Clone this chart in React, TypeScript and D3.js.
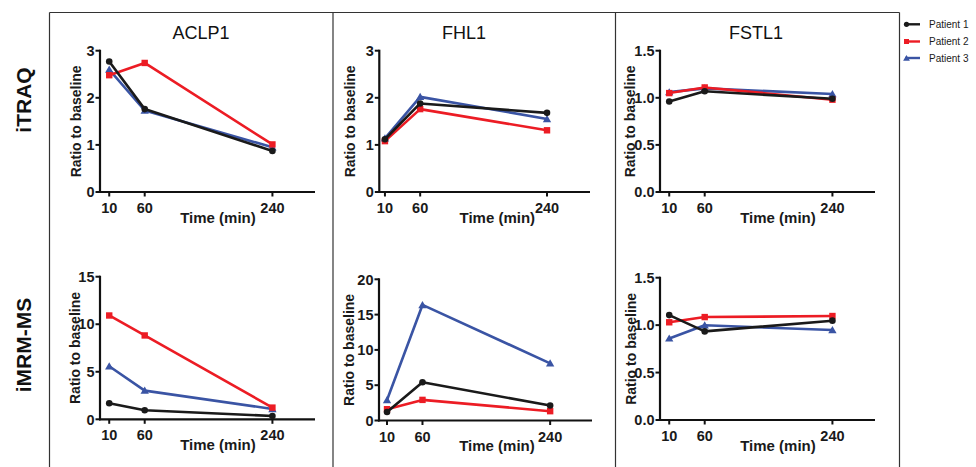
import React from "react";
import * as d3 from "d3";

// ---- data ----
const times = [10, 60, 240];
const patients = ["Patient 1", "Patient 2", "Patient 3"];
const proteins = ["ACLP1", "FHL1", "FSTL1"];
const methods = ["iTRAQ", "iMRM-MS"];

// rows: Patient 1, Patient 2, Patient 3 ; columns: 10, 60, 240 min
const itraqACLP1 = [[2.77, 1.76, 0.87], [2.48, 2.74, 1.01], [2.6, 1.73, 0.95]];
const itraqFHL1 = [[1.12, 1.88, 1.68], [1.08, 1.76, 1.31], [1.14, 2.02, 1.55]];
const itraqFSTL1 = [[0.96, 1.07, 0.99], [1.05, 1.11, 0.98], [1.06, 1.1, 1.04]];
const imrmACLP1 = [[1.69, 0.95, 0.35], [10.92, 8.82, 1.23], [5.58, 3.02, 1.09]];
const imrmFHL1 = [[1.2, 5.42, 2.12], [1.6, 2.92, 1.32], [2.9, 16.37, 8.1]];
const imrmFSTL1 = [[1.106, 0.934, 1.047], [1.03, 1.085, 1.096], [0.86, 0.998, 0.948]];

const yTicksACLP1i = [0, 1, 2, 3];
const yTicksFHL1i = [0, 1, 2, 3];
const yTicksFSTL1 = [0, 0.5, 1.0, 1.5];
const yTicksACLP1m = [0, 5, 10, 15];
const yTicksFHL1m = [0, 5, 10, 15, 20];

// ---- styles / layout ----
const COLORS = ["#1a1a1a", "#ec1c24", "#3a54a4"];
const FONT = "'Liberation Sans', Arial, Helvetica, sans-serif";

type Panel = {
  data: number[][];
  ticks: number[];
  fmt: (v: number) => string;
  title?: string;
  titleX: number;
  axisX: number;
  axisEnd: number;
  xDom: [number, number];
  yTop: number;
  yBot: number;
  yLabOff: number;
};

const intFmt = (v: number) => String(v);
const decFmt = d3.format(".1f");

const panels: Panel[] = [
  { data: itraqACLP1, ticks: yTicksACLP1i, fmt: intFmt, title: proteins[0], titleX: 201, axisX: 100, axisEnd: 315, xDom: [-3, 300], yTop: 50.7, yBot: 192, yLabOff: 19.5 },
  { data: itraqFHL1, ticks: yTicksFHL1i, fmt: intFmt, title: proteins[1], titleX: 464, axisX: 379.3, axisEnd: 590, xDom: [2, 301], yTop: 50.7, yBot: 192, yLabOff: 24 },
  { data: itraqFSTL1, ticks: yTicksFSTL1, fmt: decFmt, title: proteins[2], titleX: 756, axisX: 660, axisEnd: 875, xDom: [-3, 300], yTop: 50.7, yBot: 192, yLabOff: 25 },
  { data: imrmACLP1, ticks: yTicksACLP1m, fmt: intFmt, titleX: 0, axisX: 100, axisEnd: 315, xDom: [-3, 300], yTop: 276.7, yBot: 419.3, yLabOff: 20.5 },
  { data: imrmFHL1, ticks: yTicksFHL1m, fmt: intFmt, titleX: 0, axisX: 379, axisEnd: 592, xDom: [-1.3, 299], yTop: 279.3, yBot: 420.5, yLabOff: 25 },
  { data: imrmFSTL1, ticks: yTicksFSTL1, fmt: decFmt, titleX: 0, axisX: 660, axisEnd: 875, xDom: [-3, 300], yTop: 277.7, yBot: 420, yLabOff: 24 },
];

const triPath = d3.symbol().type(d3.symbolTriangle).size(30)() as string;
const triPathSmall = d3.symbol().type(d3.symbolTriangle).size(20)() as string;

function Marker({ i, x, y, small }: { i: number; x: number; y: number; small?: boolean }) {
  const c = COLORS[i];
  if (i === 0) return <circle cx={x} cy={y} r={small ? 2.6 : 3.3} fill={c} />;
  if (i === 1) {
    const s = small ? 5 : 6.4;
    return <rect x={x - s / 2} y={y - s / 2} width={s} height={s} fill={c} />;
  }
  return <path d={small ? triPathSmall : triPath} transform={`translate(${x},${y + 0.8})`} fill={c} />;
}

function PanelChart({ p }: { p: Panel }) {
  const ymax = p.ticks[p.ticks.length - 1];
  const x = d3.scaleLinear().domain(p.xDom).range([p.axisX, p.axisEnd]);
  const y = d3.scaleLinear().domain([0, ymax]).range([p.yBot, p.yTop]);
  const line = d3
    .line<number>()
    .x((_, k) => x(times[k]))
    .y((v) => y(v));
  const order = [2, 1, 0];
  const yMid = (p.yTop + p.yBot) / 2;
  return (
    <g>
      {p.title && (
        <text x={p.titleX} y={39} textAnchor="middle" fontSize={18} fontFamily={FONT} fill="#111">
          {p.title}
        </text>
      )}
      {/* axes */}
      <line x1={p.axisX} x2={p.axisX} y1={p.yTop - 1} y2={p.yBot + 1} stroke="#111" strokeWidth={2.2} />
      <line x1={p.axisX - 1} x2={p.axisEnd} y1={p.yBot} y2={p.yBot} stroke="#111" strokeWidth={2.2} />
      {p.ticks.map((t) => (
        <g key={t}>
          <line x1={p.axisX - 4.5} x2={p.axisX} y1={y(t)} y2={y(t)} stroke="#111" strokeWidth={2} />
          <text
            x={p.axisX - 5.5}
            y={y(t)}
            dy="0.36em"
            textAnchor="end"
            fontSize={14.5}
            fontWeight="bold"
            fontFamily={FONT}
            fill="#1a1a1a"
          >
            {p.fmt(t)}
          </text>
        </g>
      ))}
      {times.map((t) => (
        <g key={t}>
          <line x1={x(t)} x2={x(t)} y1={p.yBot} y2={p.yBot + 4.5} stroke="#111" strokeWidth={2} />
          <text
            x={x(t)}
            y={p.yBot + 21}
            textAnchor="middle"
            fontSize={14.5}
            fontWeight="bold"
            fontFamily={FONT}
            fill="#1a1a1a"
          >
            {t}
          </text>
        </g>
      ))}
      <text
        x={p.axisX + 118}
        y={p.yBot + 30.5}
        textAnchor="middle"
        fontSize={15}
        fontWeight="bold"
        fontFamily={FONT}
        fill="#1a1a1a"
      >
        Time (min)
      </text>
      <text
        transform={`translate(${p.axisX - p.yLabOff},${yMid}) rotate(-90)`}
        textAnchor="middle"
        fontSize={14}
        fontWeight="bold"
        fontFamily={FONT}
        fill="#1a1a1a"
      >
        Ratio to baseline
      </text>
      {order.map((i) => (
        <g key={i}>
          <path d={line(p.data[i]) as string} fill="none" stroke={COLORS[i]} strokeWidth={2.6} strokeLinejoin="round" />
          {p.data[i].map((v, k) => (
            <Marker key={k} i={i} x={x(times[k])} y={y(v)} />
          ))}
        </g>
      ))}
    </g>
  );
}

export default function App() {
  const W = 976;
  const H = 467;
  const frameTop = 12.5;
  const frameXs = [49.5, 333, 615.5, 899.5];
  const legendY = [24.3, 41.5, 58];
  return (
    <svg width={W} height={H} style={{ position: "absolute", left: 0, top: 0, background: "#fff" }}>
      <rect width={W} height={H} fill="#fff" />
      {/* frame */}
      <line x1={frameXs[0]} x2={frameXs[3]} y1={frameTop} y2={frameTop} stroke="#333" strokeWidth={1.2} />
      {frameXs.map((fx, i) => (
        <line key={i} x1={fx} x2={fx} y1={frameTop} y2={H} stroke="#333" strokeWidth={1.2} />
      ))}
      {/* row labels */}
      <text
        transform={`translate(31,100) rotate(-90)`}
        textAnchor="middle"
        fontSize={21}
        fontWeight="bold"
        fontFamily={FONT}
        fill="#111"
      >
        {methods[0]}
      </text>
      <text
        transform={`translate(31,345) rotate(-90)`}
        textAnchor="middle"
        fontSize={21}
        fontWeight="bold"
        fontFamily={FONT}
        fill="#111"
      >
        {methods[1]}
      </text>
      {panels.map((p, i) => (
        <PanelChart key={i} p={p} />
      ))}
      {/* legend */}
      {patients.map((name, i) => (
        <g key={name}>
          <line x1={905} x2={920} y1={legendY[i]} y2={legendY[i]} stroke={COLORS[i]} strokeWidth={2.4} />
          <Marker i={i} x={906.5} y={legendY[i]} small />
          <text x={929} y={legendY[i]} dy="0.35em" fontSize={10} fontFamily={FONT} fill="#1a1a1a">
            {name}
          </text>
        </g>
      ))}
    </svg>
  );
}
